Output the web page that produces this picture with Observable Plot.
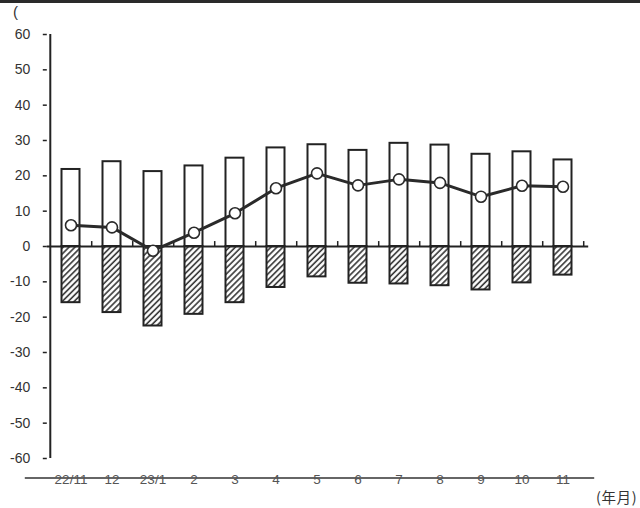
<!DOCTYPE html>
<html>
<head>
<meta charset="utf-8">
<script src="https://cdn.jsdelivr.net/npm/d3@7"></script>
<script src="https://cdn.jsdelivr.net/npm/@observablehq/plot@0.6"></script>
<style>
  html, body { margin: 0; padding: 0; background: #fff; }
  #wrap { position: relative; width: 640px; height: 508px; overflow: hidden; }
  #topbar { position: absolute; left: 0; top: 0; width: 640px; height: 3px; background: #2a2a2a; }
  .note { position: absolute; color: #333; white-space: nowrap; }
  #unitY { left: 13px; top: 3px; font: 15px "Liberation Sans", sans-serif; }
  #unitX { left: 596px; top: 487px; font: 14.5px "Noto Sans CJK JP", sans-serif; line-height: 20px; letter-spacing: 0.6px; }
</style>
</head>
<body>
<div id="wrap">
  <div id="chart"></div>
  <div id="topbar"></div>
  <div class="note" id="unitY">(</div>
  <div class="note" id="unitX">(年月)</div>
</div>
<script>
const categories = ["22/11", "12", "23/1", "2", "3", "4", "5", "6", "7", "8", "9", "10", "11"];
const positive = [21.8, 24.0, 21.2, 22.8, 25.0, 27.9, 28.8, 27.2, 29.2, 28.7, 26.1, 26.8, 24.5];
const negative = [-15.9, -18.7, -22.5, -19.2, -15.9, -11.6, -8.6, -10.4, -10.6, -11.1, -12.3, -10.3, -8.1];
const net = [6.0, 5.4, -1.2, 3.9, 9.4, 16.5, 20.7, 17.3, 19.0, 18.0, 14.1, 17.2, 16.9];
const yTicks = [-60, -50, -40, -30, -20, -10, 0, 10, 20, 30, 40, 50, 60];

const rows = categories.map((c, i) => ({cat: c, pos: positive[i], neg: negative[i], net: net[i]}));
const step = (640 - 46.8 - 54.8) / categories.length;
const ink = "#222";

const chart = Plot.plot({
  width: 640,
  height: 508,
  marginTop: 34,
  marginBottom: 50,
  marginLeft: 46.8,
  marginRight: 54.8,
  style: {background: "transparent", fontFamily: "'Liberation Sans', sans-serif"},
  x: {type: "band", domain: categories, padding: 0},
  y: {domain: [-60, 60]},
  marks: [
    Plot.axisY({ticks: yTicks, tickFormat: d => String(d), tickSize: 4, tickPadding: 13, fontSize: 14, color: "#333", stroke: ink, strokeWidth: 1.5, label: null}),
    // bottom category line
    Plot.ruleY([-65.5], {stroke: "#333", strokeWidth: 1.6, insetLeft: -22, insetRight: -9}),
    Plot.axisX({tickSize: 0, tickPadding: 16, fontSize: 13.5, color: "#555", label: null}),
    // y axis line (left edge of first band)
    Plot.ruleX([categories[0]], {y1: -60, y2: 60, dx: -step / 2, stroke: ink, strokeWidth: 2}),
    Plot.barY(rows, {x: "cat", y1: 0, y2: "pos", fill: "#fff", stroke: ink, strokeWidth: 2, insetLeft: 11.5, insetRight: 11.5}),
    Plot.barY(rows, {x: "cat", y1: 0, y2: "neg", fill: "url(#hatch)", stroke: ink, strokeWidth: 2, insetLeft: 11.5, insetRight: 11.5}),
    Plot.ruleY([0], {stroke: ink, strokeWidth: 2, insetRight: -3}),
    Plot.ruleX(categories, {x: d => d, y1: 0, y2: 1.4, dx: step / 2, stroke: ink, strokeWidth: 1.5}),
    Plot.line(rows, {x: "cat", y: "net", stroke: "#2a2a2a", strokeWidth: 3}),
    Plot.dot(rows, {x: "cat", y: "net", r: 5.5, fill: "#fff", stroke: "#2a2a2a", strokeWidth: 1.6})
  ]
});

const defs = d3.select(chart).insert("defs", ":first-child");
const pat = defs.append("pattern")
  .attr("id", "hatch")
  .attr("patternUnits", "userSpaceOnUse")
  .attr("width", 4.2)
  .attr("height", 4.2)
  .attr("patternTransform", "rotate(45)");
pat.append("rect").attr("width", 4.2).attr("height", 4.2).attr("fill", "#fff");
pat.append("line").attr("x1", 1).attr("y1", 0).attr("x2", 1).attr("y2", 4.2)
  .attr("stroke", "#333").attr("stroke-width", 1.6);

document.getElementById("chart").appendChild(chart);
</script>
</body>
</html>
